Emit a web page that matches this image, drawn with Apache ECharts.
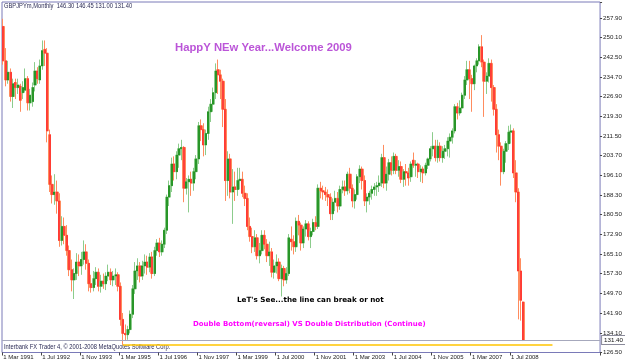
<!DOCTYPE html>
<html><head><meta charset="utf-8">
<script src="https://cdn.jsdelivr.net/npm/echarts@6/dist/echarts.min.js"></script>
<style>html,body{margin:0;padding:0;background:#fff}#c{width:625px;height:363px}</style>
</head><body><div id="c"></div>
<script>
// Monthly GBPJPY bars, Mar 1991 .. Dec 2008
const startYear = 1991, startMonth = 3, totalSlots = 245;
const open = [
 254.5,241.0,233.5,236.5,227.0,232.5,230.5,231.0,228.5,229.5,
 234.0,224.5,225.0,231.5,237.0,233.5,239.0,245.5,244.0,212.0,192.5,188.5,
 189.5,186.0,170.5,176.0,172.5,166.5,159.0,155.0,157.5,162.0,160.5,163.0,
 166.0,161.5,153.5,152.0,155.5,158.0,152.5,154.5,153.5,156.5,158.0,155.0,
 156.5,157.0,152.5,139.5,134.0,133.5,135.5,141.5,151.5,158.5,160.5,156.5,
 160.5,162.0,160.0,164.0,157.5,166.5,169.5,166.0,169.0,174.5,187.5,192.0,
 200.5,197.5,204.0,206.5,207.0,191.0,193.5,194.5,193.0,197.5,202.5,215.5,
 214.0,208.0,212.5,221.0,224.0,228.5,237.5,235.5,233.0,222.0,194.0,202.5,
 189.5,191.5,190.5,194.0,194.5,189.0,187.0,176.0,172.0,168.0,171.5,164.5,
 166.5,172.5,169.0,164.5,166.0,158.0,160.5,162.0,155.5,159.5,155.0,157.5,
 171.0,170.0,168.0,178.0,176.5,169.5,175.0,177.0,172.0,174.0,177.5,176.0,
 191.0,190.0,189.5,188.5,187.5,181.0,185.5,187.0,184.0,190.5,191.5,190.0,
 196.5,191.0,186.0,188.5,195.5,198.5,194.0,186.0,187.5,189.0,190.5,191.5,
 192.0,193.0,203.0,193.0,196.5,201.0,198.0,203.5,198.0,199.5,194.5,197.5,
 197.0,195.5,202.0,200.0,200.5,197.5,198.5,197.0,200.0,202.5,206.5,207.5,
 203.0,207.5,203.0,205.5,206.5,209.5,211.0,213.5,223.0,220.5,222.5,227.5,
 233.5,237.5,234.0,232.0,239.0,241.0,246.5,240.5,233.0,235.0,240.0,230.5,
 222.0,212.0,207.5,197.5,205.5,208.5,213.0,213.5,197.0,189.5,158.5,146.30
];
const high = [
 257.5,246.0,241.0,238.0,234.0,234.0,234.0,232.0,233.0,238.0,
 235.0,230.0,232.5,240.5,238.5,241.5,249.0,249.0,246.0,214.0,196.0,196.5,
 194.0,189.0,180.0,179.5,176.5,168.5,163.0,159.5,165.5,165.0,166.0,170.5,
 169.0,163.0,157.0,158.5,160.0,159.5,157.0,157.5,158.0,161.0,159.5,158.5,
 159.5,158.0,154.0,142.0,137.5,137.0,143.0,153.0,162.0,163.5,162.0,162.5,
 165.0,164.5,165.5,166.0,168.0,171.0,171.5,170.5,175.5,188.5,194.0,203.0,
 203.5,205.5,208.5,210.0,207.5,195.0,196.0,197.5,199.0,204.0,217.0,218.0,
 216.5,214.0,223.0,226.0,230.5,240.0,241.5,237.5,234.0,226.0,205.5,204.5,
 198.5,197.5,199.0,199.0,197.5,192.0,189.0,179.5,175.5,174.5,173.0,169.5,
 174.5,174.5,171.0,170.0,167.5,163.0,165.0,163.5,161.0,160.5,160.0,173.0,
 176.0,172.5,179.5,180.5,177.5,176.0,178.5,178.0,175.5,179.0,180.0,192.5,
 193.5,192.0,191.5,190.5,189.0,187.0,190.0,189.5,192.0,194.0,194.0,197.5,
 199.0,192.5,190.5,196.5,200.0,199.5,196.0,189.0,190.0,192.0,193.0,193.5,
 196.0,204.5,208.0,199.5,202.5,203.5,205.0,204.5,202.0,201.5,198.5,200.5,
 199.0,201.5,205.0,202.0,201.0,200.0,199.5,201.0,203.0,207.5,213.0,210.0,
 210.0,209.0,207.5,208.0,211.0,212.5,214.5,224.0,224.5,225.5,228.5,235.0,
 241.0,241.0,235.5,239.5,242.0,247.5,251.1,241.5,236.5,242.0,241.5,231.5,
 224.0,214.0,209.0,206.5,209.5,215.5,216.0,214.5,202.0,191.0,163.5,146.45
];
const low = [
 239.5,231.0,232.0,225.0,222.5,226.0,228.0,221.0,226.0,228.5,
 221.5,221.5,223.0,229.0,232.0,232.0,237.5,239.0,209.0,189.5,185.0,184.5,
 181.0,168.0,168.5,169.0,164.5,156.5,150.5,147.5,155.0,156.5,157.0,161.0,
 159.0,150.5,150.0,150.5,153.0,150.5,150.0,151.5,151.0,154.5,153.0,152.5,
 153.0,150.5,137.0,129.5,131.0,131.5,134.0,140.0,149.5,155.0,154.0,155.0,
 157.5,157.0,158.0,155.5,156.5,164.5,164.0,164.5,167.5,173.0,184.0,189.5,
 194.0,194.5,199.0,202.0,185.5,188.5,181.5,188.0,190.0,194.5,200.5,209.5,
 203.5,204.0,210.0,217.0,221.0,226.0,228.0,226.0,215.0,186.0,188.0,187.0,
 177.0,186.0,188.0,190.5,187.5,184.0,174.5,170.0,165.5,166.0,163.0,161.5,
 165.0,167.0,162.0,160.5,156.0,155.5,157.5,154.5,148.5,152.5,153.5,156.5,
 166.5,165.0,166.0,172.5,166.5,167.5,172.0,170.5,167.5,172.5,174.5,175.0,
 187.0,186.5,186.0,184.0,178.5,178.5,182.0,181.5,182.5,189.0,188.0,188.5,
 189.0,183.5,183.0,186.5,193.0,190.5,184.0,181.5,184.5,186.5,188.0,188.0,
 189.5,191.5,191.0,190.0,194.0,196.0,196.5,196.5,195.5,193.0,191.5,192.0,
 192.0,193.5,199.0,195.5,195.0,193.5,193.0,196.0,198.5,201.5,203.5,201.5,
 201.0,201.5,201.0,202.5,203.5,203.0,208.5,212.5,218.0,219.5,220.5,226.0,
 231.5,226.0,221.0,229.5,236.5,239.5,238.5,219.0,228.0,232.5,225.0,219.5,
 205.0,202.0,192.0,196.5,201.0,206.0,208.5,195.0,185.5,139.5,139.0,131.00
];
const close = [
 241.0,233.5,236.5,227.0,232.0,230.5,231.5,225.5,230.5,234.0,
 224.5,227.5,230.5,237.0,234.0,239.0,245.0,244.0,213.5,192.5,188.5,189.5,
 186.0,170.5,176.0,172.5,166.5,159.0,155.0,157.5,162.0,160.5,163.0,166.0,
 161.5,153.5,152.0,155.5,158.0,152.5,154.5,153.5,156.5,158.0,155.0,156.5,
 157.0,152.5,139.5,134.0,133.5,135.5,141.5,151.5,158.5,160.5,156.5,160.5,
 162.0,160.0,164.0,157.5,166.5,169.5,166.0,169.0,174.5,187.5,192.0,200.5,
 197.5,204.0,206.5,207.0,191.0,193.5,194.5,193.0,197.5,202.5,215.5,214.0,
 208.0,212.5,221.0,224.0,228.5,237.0,235.5,233.0,222.0,194.0,202.5,189.5,
 191.5,190.5,194.0,194.5,189.0,187.0,176.0,172.0,168.0,171.5,164.5,166.5,
 172.5,169.0,164.5,166.0,158.0,160.5,162.0,155.5,159.5,155.0,157.5,171.5,
 170.0,168.0,178.0,176.5,169.5,175.0,177.0,172.0,174.0,177.5,176.0,191.0,
 190.0,189.5,188.5,187.5,181.0,185.5,187.0,184.0,190.5,191.5,190.0,196.5,
 191.0,186.0,188.5,195.5,198.5,194.0,186.0,187.5,189.0,190.5,191.5,192.0,
 193.0,203.0,193.0,196.5,201.0,198.0,203.5,198.0,199.5,194.5,197.5,197.0,
 195.0,200.5,200.0,200.5,197.5,198.5,197.0,200.0,202.5,206.5,207.5,203.0,
 207.5,203.0,205.5,206.5,209.5,211.0,213.5,223.0,220.5,222.5,227.5,233.5,
 237.5,234.0,232.0,239.0,241.0,246.5,240.5,233.0,235.0,240.0,230.5,222.0,
 212.0,207.5,197.5,205.5,208.5,213.0,213.5,197.0,189.5,158.5,147.0,131.40
];
const xTickLabels = ['1 Mar 1991','1 Jul 1992','1 Nov 1993','1 Mar 1995','1 Jul 1996','1 Nov 1997',
 '1 Mar 1999','1 Jul 2000','1 Nov 2001','1 Mar 2003','1 Jul 2004','1 Nov 2005','1 Mar 2007','1 Jul 2008'];
const yTickLabels = ['126.50','134.10','141.90','149.70','157.30','165.10','172.90','180.50','188.30',
 '196.10','203.70','211.50','219.30','226.90','234.70','242.50','250.10','257.90'];
const bidPrice = 131.40, bidLabel = '131.40';
const supportLevel = 129.5, supportFrom = '1 Apr 1995', supportTo = '1 Dec 2009';
const headerText = 'GBPJPYm,Monthly  146.30 146.45 131.00 131.40';
const note1 = 'HappY NEw Year...Welcome 2009';
const note2 = "LeT's See...the line can break or not";
const note3 = 'Double Bottom(reversal) VS Double Distribution (Continue)';
const footer = 'Interbank FX Trader 4, \u00A9 2001-2008 MetaQuotes Software Corp.';

const monthNames = ['Jan','Feb','Mar','Apr','May','Jun','Jul','Aug','Sep','Oct','Nov','Dec'];
const categories = [];
for (let k = 0; k < totalSlots; k++) {
  const t = startMonth - 1 + k;
  categories.push('1 ' + monthNames[t % 12] + ' ' + (startYear + Math.floor(t / 12)));
}
const bars = categories.map((c, k) => k < close.length ? [open[k], close[k], low[k], high[k]] : '-');
const bodies = categories.map((c, k) => k < close.length
  ? [open[k], close[k], Math.min(open[k], close[k]), Math.max(open[k], close[k])] : '-');
const yMin = 126.5, yMax = 264.1;
const yInterval = (257.9 - 126.5) / 17;
const small = '"Liberation Sans",Arial,sans-serif';

const chart = echarts.init(document.getElementById('c'), null, {renderer: 'canvas'});
chart.setOption({
  animation: false,
  backgroundColor: '#ffffff',
  grid: {left: 2, right: 23.5, top: 2, bottom: 10.5, show: true, borderColor: '#7a7ab8', borderWidth: 1, backgroundColor: '#ffffff'},
  xAxis: {
    type: 'category', data: categories, boundaryGap: true,
    axisLine: {show: false},
    axisTick: {show: true, length: 3, interval: (i, v) => xTickLabels.includes(v), lineStyle: {color: '#444'}},
    axisLabel: {interval: (i, v) => xTickLabels.includes(v), align: 'left', margin: 2,
      fontFamily: small, fontSize: 6, color: '#222',
      formatter: v => xTickLabels.includes(v) ? v : ''},
    splitLine: {show: false}
  },
  yAxis: {
    type: 'value', position: 'right', min: yMin, max: yMax, interval: yInterval, scale: true,
    axisLine: {show: false},
    axisTick: {show: true, length: 2, lineStyle: {color: '#444'}},
    axisLabel: {margin: 3, fontFamily: small, fontSize: 6.2, color: '#222',
      formatter: (v, i) => yTickLabels[i] !== undefined ? yTickLabels[i] : ''},
    splitLine: {show: false}
  },
  series: [{
    type: 'candlestick', data: bars, barWidth: 2.8,
    itemStyle: {color: '#93d393', color0: '#ffa27c', borderColor: '#8ccc8c', borderColor0: '#ff8c5e', borderWidth: 1},
    markLine: {
      silent: true, symbol: ['none', 'none'], animation: false,
      data: [
        {yAxis: bidPrice, lineStyle: {color: '#a6a8bc', width: 1, type: 'solid'},
         label: {show: true, position: 'end', formatter: bidLabel, distance: 2, fontFamily: small, fontSize: 6.2,
           color: '#111', backgroundColor: '#ffffff', borderColor: '#8a8a9a', borderWidth: 1, padding: [1, 2, 1, 2]}},
        [{coord: [supportFrom, supportLevel], lineStyle: {color: '#ffc400', width: 1.6, type: 'solid'}, label: {show: false}},
         {coord: [supportTo, supportLevel]}]
      ]
    }
  }, {
    type: 'candlestick', data: bodies, barWidth: 1.5,
    itemStyle: {color: '#0f870f', color0: '#ff2828', borderColor: '#0f870f', borderColor0: '#ff2828', borderWidth: 0.6}
  }],
  graphic: [
    {type: 'text', x: 4, y: 6, scaleX: 0.85, style: {text: headerText, font: '6.8px ' + small, fill: '#2b2b55', verticalAlign: 'middle'}},
    {type: 'text', x: 175, y: 48, style: {text: note1, font: 'bold 11.3px "Liberation Sans",Arial,sans-serif', fill: '#bb55d8', verticalAlign: 'middle'}},
    {type: 'text', x: 237, y: 300.5, style: {text: note2, font: 'bold 7.2px "DejaVu Sans",sans-serif', fill: '#000000', verticalAlign: 'middle'}},
    {type: 'text', x: 193, y: 324, style: {text: note3, font: 'bold 6.95px "DejaVu Sans",sans-serif', fill: '#ff00ff', verticalAlign: 'middle'}},
    {type: 'text', x: 4, y: 347, scaleX: 0.85, style: {text: footer, font: '6.8px ' + small, fill: '#2b2b55', verticalAlign: 'middle'}}
  ]
});
</script></body></html>
